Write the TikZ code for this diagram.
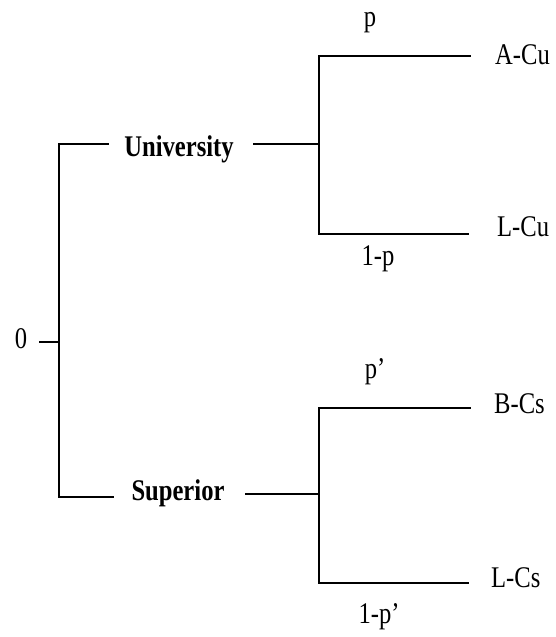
\documentclass[tikz,border=0pt]{standalone}
\usepackage{fontspec}
\setmainfont{Liberation Serif}
\newfontfamily\condserif[FakeStretch=0.82]{Liberation Serif}
\begin{document}
\begin{tikzpicture}[x=1pt,y=-1pt,
  lbl/.style={inner sep=0pt,font=\condserif\fontsize{30}{34}\selectfont},
  blbl/.style={inner sep=0pt,font=\condserif\fontsize{30}{34}\selectfont\bfseries},
  edge/.style={line width=2pt,line cap=rect}]
\useasboundingbox (0,0) rectangle (556,637);
% text nodes (anchored on baseline)
\node[lbl,anchor=base] (root) at (21,348) {0};
\node[blbl,anchor=base] (univ) at (179,156) {University};
\node[blbl,anchor=base] (sup) at (178,500) {Superior};
\node[lbl,anchor=base west] (acu) at (495,64) {A-Cu};
\node[lbl,anchor=base west] (lcu) at (497,236) {L-Cu};
\node[lbl,anchor=base west] (bcs) at (494,413) {B-Cs};
\node[lbl,anchor=base west] (lcs) at (491,587) {L-Cs};
\node[lbl,anchor=base] (p) at (370,27) {p};
\node[lbl,anchor=base] (q) at (378,265) {1-p};
\node[lbl,anchor=base] (pp) at (375,378) {p’};
\node[lbl,anchor=base] (qq) at (379,623) {1-p’};
% junction coordinates
\coordinate (r0) at (40,342);
\coordinate (j0) at (59,342);
\coordinate (jt) at (59,144);
\coordinate (jb) at (59,496.5);
\coordinate (ul) at (108,144);
\coordinate (ur) at (254,144);
\coordinate (ju) at (319,144);
\coordinate (jua) at (319,56);
\coordinate (jul) at (319,233.5);
\coordinate (ea) at (470,56);
\coordinate (el) at (468,233.5);
\coordinate (sl) at (113,496.5);
\coordinate (sr) at (246,494);
\coordinate (js) at (319,494);
\coordinate (jsb) at (319,408);
\coordinate (jsl) at (319,582.7);
\coordinate (eb) at (470,408);
\coordinate (es) at (468,582.7);
% connectors
\draw[edge] (r0) -- (j0);
\draw[edge] (ul) -- (jt) -- (jb) -- (sl);
\draw[edge] (ur) -- (ju);
\draw[edge] (ea) -- (jua) -- (jul) -- (el);
\draw[edge] (sr) -- (js);
\draw[edge] (eb) -- (jsb) -- (jsl) -- (es);
\end{tikzpicture}
\end{document}
